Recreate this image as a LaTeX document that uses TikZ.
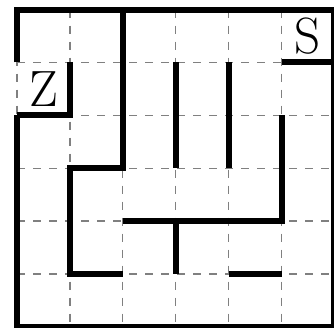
\documentclass[tikz,border=0pt]{standalone}
\usetikzlibrary{calc}
\begin{document}
\begin{tikzpicture}[x=1pt,y=-1pt,
  gridline/.style={draw=black!50,line width=1.3pt,dash pattern=on 8pt off 8pt},
  wall/.style={draw=black,line width=6pt,line cap=butt,line join=miter},
  lbl/.style={font=\fontsize{51}{51}\selectfont,inner sep=0pt}]
\useasboundingbox (0,0) rectangle (334,327);
\clip (0,0) rectangle (334,327);
% grid coordinates
\foreach \i in {0,...,6}{
  \foreach \j in {0,...,6}{
    \coordinate (p\i\j) at ({17+52.9*\i},{9.5+52.9*\j});
  }
}
% dashed grid
\foreach \k in {0,...,6}{
  \draw[gridline] (p\k0) -- (p\k6);
  \draw[gridline] (p0\k) -- (p6\k);
}
% labels
\node[lbl] (z) at ($(p01)!0.5!(p12)$) {Z};
\node[lbl] (s) at ($(p50)!0.5!(p61)$) {S};
% outer walls
\draw[wall] (p01) -- (p00) -- (p60) -- (p66) -- (p06) -- (p02);
% Z notch
\draw[wall] (p02) -- (p12) -- (p11);
% S shelf
\draw[wall] (p51) -- (p61);
% interior walls
\draw[wall] (p20) -- (p23) -- (p13) -- (p15) -- (p25);
\draw[wall] (p24) -- (p54) -- (p52);
\draw[wall] (p31) -- (p33);
\draw[wall] (p41) -- (p43);
\draw[wall] (p34) -- (p35);
\draw[wall] (p45) -- (p55);
\end{tikzpicture}
\end{document}
